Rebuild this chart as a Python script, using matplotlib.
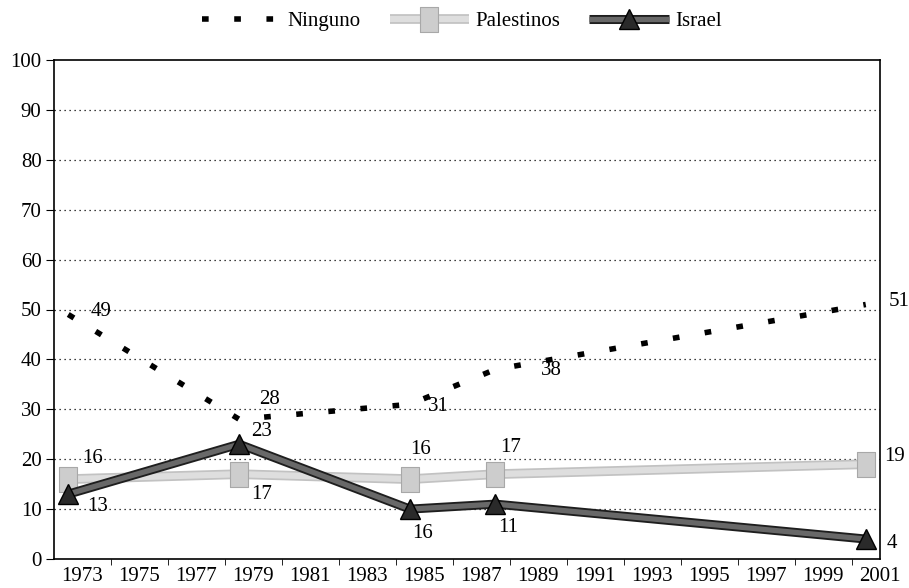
import matplotlib
matplotlib.use("Agg")
import matplotlib.pyplot as plt

# survey points (positions)
years = [1972.5, 1978.5, 1984.5, 1987.5, 2000.5]
ninguno = [49, 28, 31, 38, 51]
palestinos = [16, 17, 16, 17, 19]
israel = [13, 23, 10, 11, 4]

ninguno_labels = ["49", "28", "31", "38", "51"]
palestinos_labels = ["16", "17", "16", "17", "19"]
israel_labels = ["13", "23", "16", "11", "4"]

tick_years = list(range(1973, 2002, 2))
minor_years = list(range(1974, 2001, 2))

# label offsets in pixels
ninguno_off = [(22, 3), (20, 20), (18, -2), (45, -1), (23, 3)]
palestinos_off = [(14, 21), (12, -20), (0, 30), (5, 27), (18, 8)]
israel_off = [(19, -12), (12, 13), (2, -24), (3, -23), (21, -4)]

plt.rcParams['font.family'] = ['Liberation Serif', 'DejaVu Serif']
plt.rcParams['font.size'] = 15

fig = plt.figure(figsize=(9.09, 5.88), dpi=100)
ax = fig.add_axes([54 / 909, 29 / 588, 826 / 909, 499 / 588])

# tall box marker for Palestinos
box = [(-0.75, -1), (0.75, -1), (0.75, 1), (-0.75, 1), (-0.75, -1)]

# Palestinos - light grey band with box markers
pal_out, = ax.plot(years, palestinos, color='#c2c2c2', lw=7, solid_capstyle='butt', zorder=2.9)
pal_in, = ax.plot(years, palestinos, color='#dedede', lw=4.5, marker=box, markersize=18,
                  markerfacecolor='#cdcdcd', markeredgecolor='#a8a8a8', markeredgewidth=0.8,
                  solid_capstyle='butt', zorder=3)

# Israel - dark thick band with triangles
isr_out, = ax.plot(years, israel, color='#1e1e1e', lw=6.5, solid_capstyle='butt', zorder=3.9)
isr_in, = ax.plot(years, israel, color='#686868', lw=3.8, marker='^', markersize=14,
                  markerfacecolor='#2a2a2a', markeredgecolor='black',
                  solid_capstyle='butt', zorder=4)

# Ninguno - short thick dashes
nin, = ax.plot(years, ninguno, color='black', lw=4, zorder=5)
nin.set_dashes((1.2, 4.6))

for xs, ys, labs, offs in [(years, ninguno, ninguno_labels, ninguno_off),
                           (years, palestinos, palestinos_labels, palestinos_off),
                           (years, israel, israel_labels, israel_off)]:
    for x, y, t, (dx, dy) in zip(xs, ys, labs, offs):
        ax.annotate(t, (x, y), xytext=(dx, dy), textcoords='offset pixels',
                    ha='left', va='center', zorder=6, annotation_clip=False)

ax.set_xlim(1972, 2001)
ax.set_ylim(0, 100)
ax.set_yticks(range(0, 101, 10))
ax.set_xticks(tick_years)
ax.set_xticklabels([str(y) for y in tick_years])
ax.set_xticks(minor_years, minor=True)
ax.tick_params(axis='x', which='major', length=0, pad=6)
ax.tick_params(axis='x', which='minor', length=4, direction='out')
ax.tick_params(axis='y', length=6, direction='out', pad=3)

for y in range(10, 100, 10):
    ax.axhline(y, color='black', lw=0.9, ls=(0, (1, 3)), zorder=1)

for s in ax.spines.values():
    s.set_linewidth(1.2)

fig.legend([nin, (pal_out, pal_in), (isr_out, isr_in)],
           ['Ninguno', 'Palestinos', 'Israel'],
           loc='upper center', bbox_to_anchor=(0.508, 1.012), ncol=3,
           frameon=False, handlelength=3.8, handletextpad=0.3,
           columnspacing=1.4)

fig.savefig('out.png', dpi=100)
